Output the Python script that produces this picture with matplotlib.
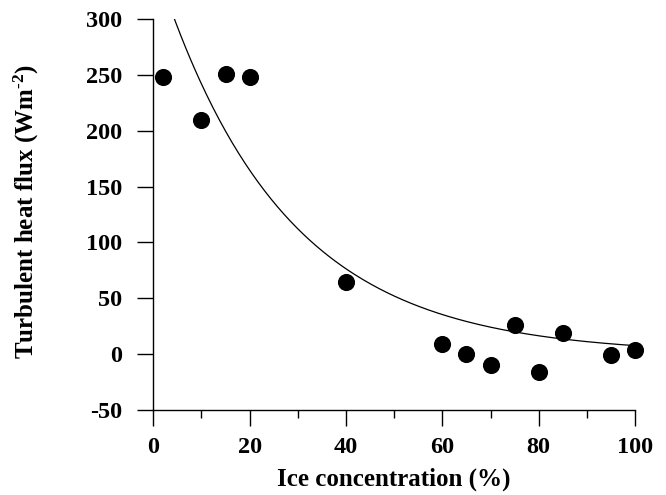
import numpy as np
import matplotlib.pyplot as plt

# Turbulent heat flux vs ice concentration, with exponential fit
ice_conc = [2, 10, 15, 20, 40, 60, 65, 70, 75, 80, 85, 95, 100]
heat_flux = [248, 210, 251, 248, 65, 9, 0, -10, 26, -16, 19, -1, 4]

# fitted curve y = a * exp(-b * x)
fit_a = 355.0
fit_b = 0.0384

plt.rcParams['font.family'] = ['Liberation Serif', 'DejaVu Serif']
plt.rcParams['font.weight'] = 'bold'
plt.rcParams['axes.unicode_minus'] = False
plt.rcParams['mathtext.fontset'] = 'custom'
plt.rcParams['mathtext.rm'] = 'Liberation Serif:bold'
plt.rcParams['mathtext.default'] = 'rm'

fig = plt.figure(figsize=(6.66, 4.95), dpi=100)
ax = fig.add_axes([0.2302, 0.1717, 0.7233, 0.7899])

xfit = np.linspace(0, 100, 300)
ax.plot(xfit, fit_a * np.exp(-fit_b * xfit), color='black', lw=0.9)
ax.scatter(ice_conc, heat_flux, s=128, color='black', zorder=3, clip_on=False)

ax.set_xlim(0, 100)
ax.set_ylim(-50, 300)
ax.set_xticks(range(0, 101, 20))
ax.set_xticks(range(10, 100, 20), minor=True)
ax.set_yticks(range(-50, 301, 50))

for side in ['top', 'right']:
    ax.spines[side].set_visible(False)
for side in ['left', 'bottom']:
    ax.spines[side].set_linewidth(1.0)

ax.tick_params(axis='both', which='major', direction='out', length=11.5, width=1.0, labelsize=17.5)
ax.tick_params(axis='x', which='major', pad=8)
ax.tick_params(axis='y', which='major', pad=11)
ax.tick_params(axis='x', which='minor', direction='out', length=5.5, width=1.0)

ax.set_xlabel('Ice concentration (%)', fontsize=18, fontweight='bold', labelpad=7)
ax.set_ylabel(r'Turbulent heat flux (Wm$^{\text{-}2}$)', fontsize=18, fontweight='bold')
ax.yaxis.set_label_coords(-0.233, 0.508)

fig.savefig('out.png', dpi=100)
